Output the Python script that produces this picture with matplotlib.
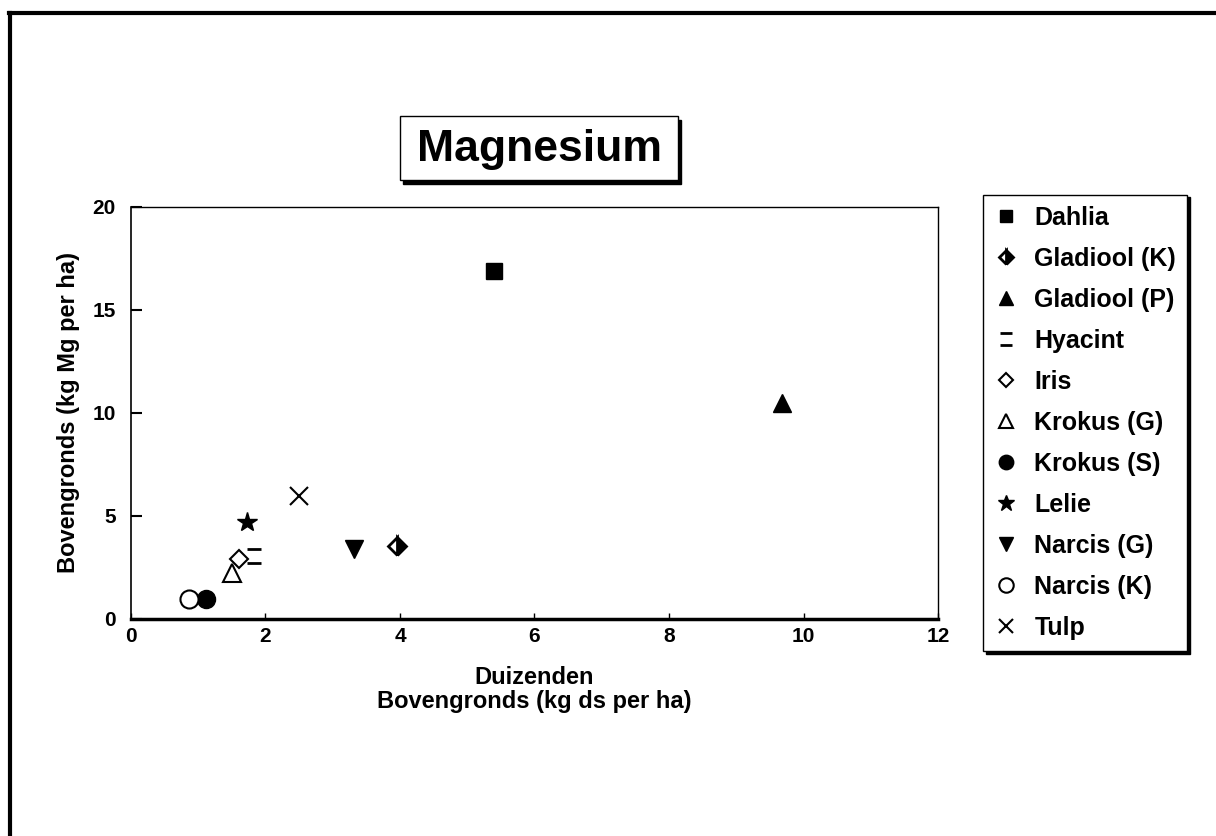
import numpy as np
import matplotlib
matplotlib.use("Agg")
import matplotlib.pyplot as plt
from matplotlib.path import Path
from matplotlib.lines import Line2D
from matplotlib.patches import Rectangle

plt.rcParams['font.family'] = ['Liberation Sans', 'DejaVu Sans']
plt.rcParams['font.weight'] = 'bold'
plt.rcParams['axes.labelweight'] = 'bold'

# data (thousands kg ds per ha, kg Mg per ha)
gewassen = ['Dahlia', 'Gladiool (K)', 'Gladiool (P)', 'Hyacint', 'Iris', 'Krokus (G)',
            'Krokus (S)', 'Lelie', 'Narcis (G)', 'Narcis (K)', 'Tulp']
ds_x = [5.40, 3.95, 9.68, 1.83, 1.60, 1.50, 1.11, 1.73, 3.32, 0.86, 2.50]
mg_y = [16.90, 3.55, 10.50, 3.05, 2.90, 2.25, 0.95, 4.72, 3.40, 0.95, 5.98]

x_ticks = [0, 2, 4, 6, 8, 10, 12]
y_ticks = [0, 5, 10, 15, 20]

# two little bars for the hyacint marker
hyacint_marker = Path([(-1, 1), (1, 1), (-1, -1), (1, -1)],
                      [Path.MOVETO, Path.LINETO, Path.MOVETO, Path.LINETO])

stijlen = {
    'Dahlia': dict(marker='s', mfc='black', ms=11),
    'Gladiool (K)': dict(marker='D', mfc='black', mfcalt='white', fillstyle='right', ms=9, mew=2),
    'Gladiool (P)': dict(marker='^', mfc='black', ms=13),
    'Hyacint': dict(marker=hyacint_marker, mfc='none', ms=10, mew=2),
    'Iris': dict(marker='D', mfc='white', ms=9, mew=1.5),
    'Krokus (G)': dict(marker='^', mfc='white', ms=13, mew=1.5),
    'Krokus (S)': dict(marker='o', mfc='black', ms=13),
    'Lelie': dict(marker='*', mfc='black', ms=15),
    'Narcis (G)': dict(marker='v', mfc='black', ms=13),
    'Narcis (K)': dict(marker='o', mfc='white', ms=13, mew=1.5),
    'Tulp': dict(marker='x', mfc='black', ms=13, mew=1.5),
}

fig = plt.figure(figsize=(12.16, 8.36), dpi=100)
ax = fig.add_axes([0.1077, 0.2596, 0.6637, 0.4928])

for naam, x, y in zip(gewassen, ds_x, mg_y):
    ax.plot([x], [y], linestyle='none', color='black', mec='black',
            label=naam, **stijlen[naam])

ax.set_xlim(0, 12)
ax.set_ylim(0, 20)
ax.set_xticks(x_ticks)
ax.set_yticks(y_ticks)
ax.tick_params(axis='y', direction='in', length=8, width=1.5, labelsize=15, pad=11)
ax.tick_params(axis='x', direction='in', length=4, width=1, labelsize=15, pad=6)
for s in ax.spines.values():
    s.set_linewidth(1.0)
ax.spines['left'].set_linewidth(1.2)
ax.spines['left'].set_linestyle((0, (4, 1)))
ax.spines['bottom'].set_linewidth(2.5)

ax.set_xlabel('Duizenden\nBovengronds (kg ds per ha)', fontsize=17, linespacing=1.05,
              labelpad=14)
ax.set_ylabel('Bovengronds (kg Mg per ha)', fontsize=17, labelpad=9)

# title in a box with a drop shadow
fig.add_artist(Rectangle((403 / 1216, 1 - 184 / 836), 278 / 1216, 64 / 836,
                         transform=fig.transFigure, fc='black', ec='black', zorder=2))
fig.add_artist(Rectangle((400 / 1216, 1 - 180 / 836), 278 / 1216, 64 / 836,
                         transform=fig.transFigure, fc='white', ec='black', lw=1,
                         zorder=3))
fig.text(539 / 1216, 1 - 150 / 836, 'Magnesium', fontsize=32, ha='center', va='center',
         zorder=4)

leg = ax.legend(loc='upper left', bbox_to_anchor=(1.056, 1.03), fontsize=18,
                frameon=True, fancybox=False, edgecolor='black',
                shadow={'facecolor': 'black', 'edgecolor': 'black', 'alpha': 1},
                handlelength=0.9, handletextpad=0.7, labelspacing=0.68,
                borderpad=0.45, borderaxespad=0, markerscale=0.8)
leg.get_frame().set_linewidth(1.0)

# page border (top and left)
fig.add_artist(Line2D([0.007, 1.0], [0.984, 0.984], color='black', lw=3,
                      transform=fig.transFigure))
fig.add_artist(Line2D([0.008, 0.008], [0.0, 0.984], color='black', lw=3,
                      transform=fig.transFigure))

fig.savefig('out.png', dpi=100)
